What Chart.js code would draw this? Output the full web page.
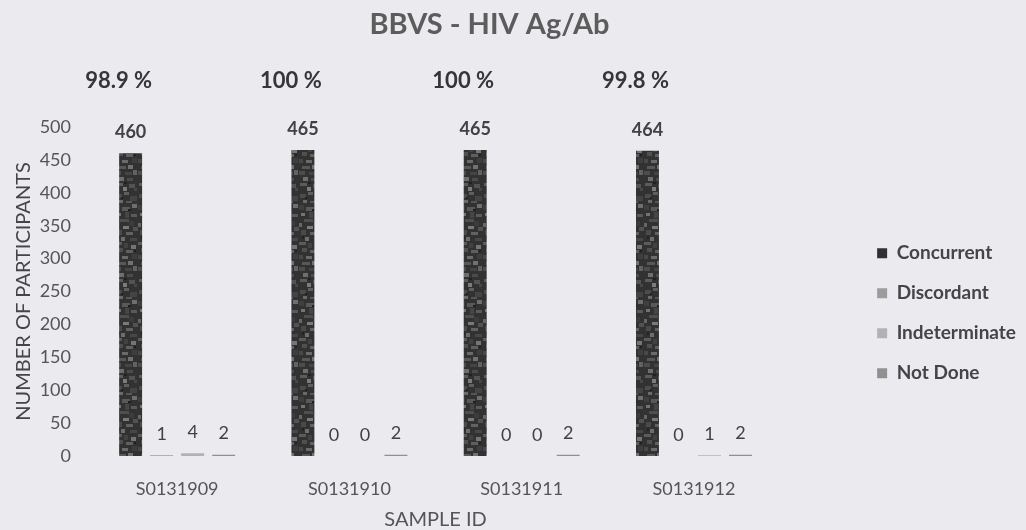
<!DOCTYPE html>
<html>
<head>
<meta charset="utf-8">
<script src="https://cdn.jsdelivr.net/npm/chart.js@4.4.0/dist/chart.umd.min.js"></script>
<style>
  html, body { margin: 0; padding: 0; background: #ebeaef; }
  #wrap { width: 1026px; height: 530px; position: relative; }
</style>
</head>
<body>
<div id="wrap"><canvas id="c" width="1026" height="530"></canvas></div>
<script>
const categories = ['S0131909', 'S0131910', 'S0131911', 'S0131912'];
const concurrent = [460, 465, 465, 464];
const discordant = [1, 0, 0, 0];
const indeterminate = [4, 0, 0, 1];
const notDone = [2, 2, 2, 2];
const percentLabels = ['98.9 %', '100 %', '100 %', '99.8 %'];
const yTicks = [0, 50, 100, 150, 200, 250, 300, 350, 400, 450, 500];
const chartTitle = 'BBVS - HIV Ag/Ab';

const FONT = 'Lato, "Open Sans", sans-serif';

// mottled texture for the dark bars (fixed blotch layout)
function makeTexture() {
  const c = document.createElement('canvas');
  c.width = 23; c.height = 96;
  const g = c.getContext('2d');
  g.fillStyle = '#323232';
  g.fillRect(0, 0, 23, 96);
  const spots = [
    [1,2,6,4,'#4c4c4c'],[9,0,5,3,'#5e5e5e'],[15,4,7,5,'#444'],[4,8,4,3,'#6a6a6a'],
    [11,9,6,2,'#555'],[0,13,5,5,'#3f3f3f'],[7,15,8,4,'#595959'],[17,12,5,4,'#6f6f6f'],
    [2,21,4,3,'#737373'],[10,20,4,6,'#464646'],[16,22,6,3,'#5a5a5a'],[5,27,9,3,'#4f4f4f'],
    [0,31,3,4,'#666'],[14,29,5,5,'#3c3c3c'],[8,34,6,3,'#7a7a7a'],[18,35,5,4,'#525252'],
    [2,38,5,5,'#4a4a4a'],[11,40,7,3,'#616161'],[6,45,4,4,'#6d6d6d'],[15,46,7,3,'#474747'],
    [0,50,7,3,'#5b5b5b'],[9,51,4,5,'#424242'],[16,53,5,4,'#757575'],[3,56,5,4,'#505050'],
    [11,58,7,3,'#5f5f5f'],[0,63,4,4,'#484848'],[7,64,6,3,'#6b6b6b'],[17,62,5,5,'#3e3e3e'],
    [3,70,8,3,'#585858'],[13,69,5,4,'#717171'],[0,75,6,4,'#4d4d4d'],[10,76,7,3,'#454545'],
    [18,74,4,5,'#626262'],[4,81,5,4,'#6e6e6e'],[12,82,6,3,'#4b4b4b'],[1,87,7,3,'#5c5c5c'],
    [14,88,6,4,'#535353'],[8,91,4,4,'#7c7c7c'],[19,92,3,3,'#474747'],
    [6,5,2,2,'#222'],[13,17,3,2,'#1f1f1f'],[3,44,2,3,'#232323'],[19,58,2,2,'#202020'],[9,86,3,2,'#212121']
  ];
  spots.forEach(s => { g.fillStyle = s[4]; g.fillRect(s[0], s[1], s[2], s[3]); });
  return g.createPattern(c, 'repeat');
}

const labelPlugin = {
  id: 'valueLabels',
  afterDatasetsDraw(chart) {
    const ctx = chart.ctx;
    ctx.save();
    ctx.textAlign = 'center';
    ctx.textBaseline = 'bottom';
    chart.data.datasets.forEach((ds, i) => {
      const meta = chart.getDatasetMeta(i);
      ctx.font = (i === 0 ? 'bold ' : '') + '18px ' + FONT;
      ctx.fillStyle = '#424242';
      meta.data.forEach((el, j) => {
        ctx.fillText(String(ds.data[j]), el.x, el.y - 12);
      });
    });
    const meta0 = chart.getDatasetMeta(0);
    const yTop = chart.scales.y.getPixelForValue(500);
    ctx.font = 'bold 22px ' + FONT;
    ctx.fillStyle = '#363636';
    ctx.textBaseline = 'middle';
    meta0.data.forEach((el, j) => {
      ctx.fillText(percentLabels[j], el.x - 12, yTop - 46);
    });
    // chart title
    ctx.font = 'bold 29px ' + FONT;
    ctx.fillStyle = '#5c5c5c';
    ctx.textBaseline = 'alphabetic';
    ctx.fillText(chartTitle, (chart.chartArea.left + chart.width) / 2 - 69, 34);
    ctx.restore();
  }
};

new Chart(document.getElementById('c'), {
  type: 'bar',
  data: {
    labels: categories,
    datasets: [
      { label: 'Concurrent', data: concurrent, backgroundColor: makeTexture() },
      { label: 'Discordant', data: discordant, backgroundColor: '#9c9c9c' },
      { label: 'Indeterminate', data: indeterminate, backgroundColor: '#b2b2b2' },
      { label: 'Not Done', data: notDone, backgroundColor: '#909090' }
    ]
  },
  options: {
    responsive: false,
    animation: false,
    devicePixelRatio: 1,
    layout: { padding: { left: 0, right: 0, top: 127, bottom: 0 } },
    datasets: { bar: { categoryPercentage: 0.72, barPercentage: 0.74 } },
    plugins: {
      title: { display: false },
      legend: {
        position: 'right',
        align: 'center',
        fullSize: false,
        title: { display: true, text: ' ', font: { size: 12 }, padding: { top: 29, bottom: 0 } },
        labels: {
          color: '#454545',
          font: { family: FONT, size: 19, weight: 'bold' },
          boxWidth: 10,
          boxHeight: 10,
          padding: 21,
          generateLabels(chart) {
            const items = Chart.defaults.plugins.legend.labels.generateLabels(chart);
            items[0].fillStyle = '#303030';
            return items;
          }
        }
      },
      tooltip: { enabled: false }
    },
    scales: {
      x: {
        grid: { display: false },
        border: { display: false },
        ticks: { color: '#555555', font: { family: FONT, size: 18 }, padding: 14 },
        title: { display: true, text: 'SAMPLE ID', color: '#555555', font: { family: FONT, size: 20 }, padding: { top: 12, bottom: -2 } },
        afterFit(s) { s.height = 74; }
      },
      y: {
        min: 0, max: 500,
        afterBuildTicks(s) { s.ticks = yTicks.map(v => ({ value: v })); },
        grid: { display: false },
        border: { display: false },
        ticks: { color: '#555555', font: { family: FONT, size: 18 }, padding: 12 },
        title: { display: true, text: 'NUMBER OF PARTICIPANTS', color: '#454545', font: { family: FONT, size: 20 }, padding: { top: 12, bottom: 0 } },
        afterFit(s) { s.width = 91; }
      },
      yR: {
        type: 'linear',
        position: 'right',
        display: true,
        grid: { display: false },
        border: { display: false },
        ticks: { display: false },
        afterFit(s) { s.width = 76; }
      }
    }
  },
  plugins: [labelPlugin]
});
</script>
</body>
</html>
